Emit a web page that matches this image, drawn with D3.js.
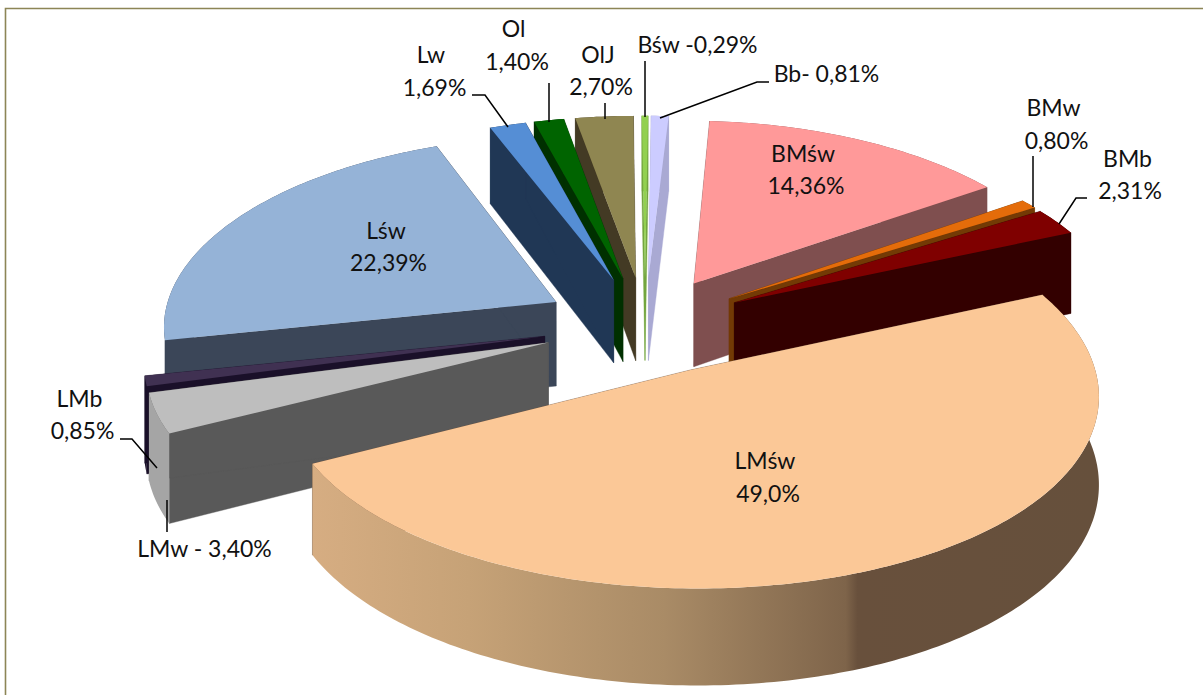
<!DOCTYPE html>
<html><head><meta charset="utf-8">
<script src="https://cdnjs.cloudflare.com/ajax/libs/d3/7.8.5/d3.min.js"></script>
<style>html,body{margin:0;padding:0;background:#fff}svg{display:block}text{font-family:Lato,"Open Sans",sans-serif;fill:#111;font-size:23px}</style>
</head><body><svg id="c" width="1203" height="695"></svg>
<script>
// data, clockwise from the BMśw slice
const categories = ["BMśw","BMw","BMb","LMśw","LMw","LMb","Lśw","Lw","Ol","OlJ","Bśw","Bb"];
const values = [14.36,0.80,2.31,49.0,3.40,0.85,22.39,1.69,1.40,2.70,0.29,0.81];
const topColors = ["#FF9999","#E46C0A","#7F0000","#FBC897","#BEBEBE","#403152","#95B3D7","#558ED5","#006400","#8F8651","#92D050","#CCCCFF"];
const cutColors = ["#7F4F4F","#733A05","#330000","#6b5240","#595959","#1A1029","#3B4658","#203755","#003000","#433A24","#74A640","#A9A9D3"];
const rimColors = ["#7F4F4F","#733A05","#330000","url(#rim)","#A5A5A5","#1A1029","#3B4658","#203755","#003000","#433A24","#74A640","#A9A9D3"];
const labelLines = [["BMśw","14,36%"],["BMw","0,80%"],["BMb","2,31%"],["LMśw","49,0%"],["LMw - 3,40%"],["LMb","0,85%"],["Lśw","22,39%"],["Lw","1,69%"],["Ol","1,40%"],["OlJ","2,70%"],["Bśw -0,29%"],["Bb- 0,81%"]];
// per-line [centre x, baseline y]
const labelAnchors = [[[803,162],[806,194]],[[1053.5,116],[1056.5,149]],[[1127.5,167],[1130,199]],[[765,469],[768,502]],[[204.5,557]],[[79.5,407],[82.5,439]],[[386,239],[388.5,271]],[[431,63],[434.5,96]],[[513.5,37],[517,70]],[[598,63],[601,95]],[[697.5,53]],[[826.5,82]]];
const leaders = [null,[[1033,156],[1033,207]],[[1087,198],[1076,198],[1059,224]],null,[[167,500],[167,532]],[[120,439],[132,439],[157,468]],null,[[472,95],[485,95],[508,127]],[[549,83],[549,122]],[[605,103],[605,119]],[[645,61],[645,117]],[[769,82],[757,82],[660,118]]];

const firstAngle = 3.6*Math.PI/180;
const view = {cx:645,cy:325,R:394,Rt:187,k:0.10,kx:0.115,d:10,H:85,explode:0.26};

const svg = d3.select("#c");
const defs = svg.append("defs");
const rim = defs.append("linearGradient").attr("id","rim").attr("gradientUnits","userSpaceOnUse")
  .attr("x1",312).attr("x2",1097).attr("y1",0).attr("y2",0);
[[0,"#D6AD82"],[0.2,"#C6A277"],[0.45,"#A98B66"],[0.68,"#7E644A"],[0.695,"#68503C"],[1,"#66503C"]]
  .forEach(s=>rim.append("stop").attr("offset",s[0]).attr("stop-color",s[1]));

// frame
svg.append("path").attr("d",d3.line()([[5.5,695],[5.5,8.5],[1203,8.5]])).attr("fill","none").attr("stroke","#8C8556").attr("stroke-width",1.6);

const arcs = d3.pie().sort(null).value(d=>d).startAngle(firstAngle).endAngle(firstAngle+2*Math.PI)(values);

function project(u,v,z){
  const s = 1/(1-view.k*v), sx = 1/(1-view.kx*v);
  return [view.cx+(view.R*u+view.d)*sx-view.d, view.cy+view.Rt*v*s+view.H*z*s];
}
function ring(b,a0,a1,n){
  const e=view.explode, ou=e*Math.sin(b), ov=-e*Math.cos(b);
  return d3.range(n+1).map(i=>{const a=a0+(a1-a0)*i/n;return [ou+Math.sin(a),ov-Math.cos(a)];});
}
const line=d3.line();
const slices = arcs.map((d,i)=>{
  const b=(d.startAngle+d.endAngle)/2;
  return {i,d,b,depth:-Math.cos(b)};
}).sort((p,q)=>p.depth-q.depth);
const g=svg.append("g");
slices.forEach(sl=>{
  const {i,d,b}=sl, e=view.explode;
  const ctr=[e*Math.sin(b),-e*Math.cos(b)];
  const n=Math.max(4,Math.ceil((d.endAngle-d.startAngle)*60));
  const pts=ring(b,d.startAngle,d.endAngle,n);
  const group=g.append("g").attr("class","slice").attr("data-name",categories[i]);
  const wall=(p,q,c)=>group.append("path").attr("d",line([project(p[0],p[1],0),project(q[0],q[1],0),project(q[0],q[1],1),project(p[0],p[1],1)])+"Z").attr("fill",c).attr("stroke",c).attr("stroke-width",0.4);
  const rimWall=()=>{
    const poly=pts.map(p=>project(p[0],p[1],0)).concat(pts.slice().reverse().map(p=>project(p[0],p[1],1)));
    group.append("path").attr("d",line(poly)+"Z").attr("fill",rimColors[i]);
  };
  const cuts=()=>{wall(ctr,pts[0],cutColors[i]);wall(ctr,pts[n],cutColors[i]);};
  if(sl.depth<0){rimWall();cuts();}else{cuts();rimWall();}
  const top=[ctr].concat(pts).map(p=>project(p[0],p[1],0));
  group.append("path").attr("d",line(top)+"Z").attr("fill",topColors[i]);
});
// labels
labelLines.forEach((ls,i)=>{
  ls.forEach((t,j)=>svg.append("text").attr("x",labelAnchors[i][j][0]).attr("y",labelAnchors[i][j][1])
    .attr("text-anchor","middle").text(t));
  if(leaders[i]) svg.append("path").attr("d",line(leaders[i])).attr("fill","none").attr("stroke","#000").attr("stroke-width",1.5);
});
</script></body></html>
